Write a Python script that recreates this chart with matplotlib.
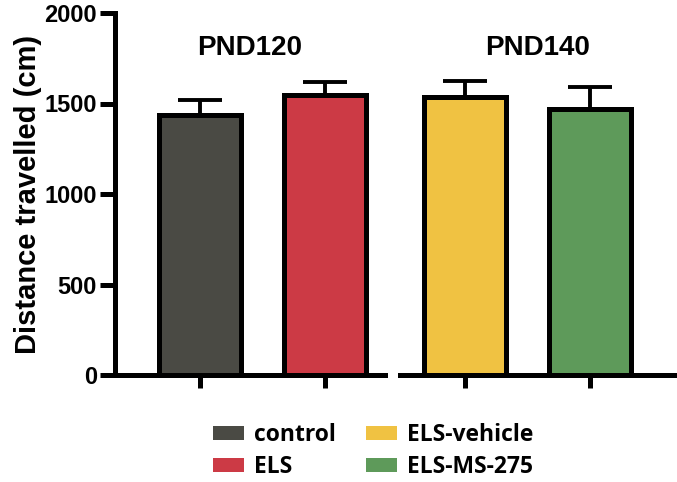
import matplotlib
matplotlib.use("Agg")
import matplotlib.pyplot as plt
from matplotlib.patches import Patch

groups = ["PND120", "PND140"]
labels = ["control", "ELS", "ELS-vehicle", "ELS-MS-275"]
means = [1436, 1547, 1536, 1470]
errs = [83, 72, 88, 121]
colors = ["#4a4a44", "#cc3a45", "#f0c242", "#5e9a5a"]
yticks = [0, 500, 1000, 1500, 2000]

plt.rcParams['font.family'] = ['Liberation Sans', 'DejaVu Sans']
fig = plt.figure(figsize=(6.77, 4.82), dpi=100)
W, H = 677, 482
bot = (482 - 375) / H
top = (482 - 13) / H
ax1 = fig.add_axes([115 / W, bot, (385 - 115) / W, top - bot])
ax2 = fig.add_axes([400 / W, bot, (675 - 400) / W, top - bot], sharey=ax1)

lw = 3.6
for k, (ax, xl) in enumerate([(ax1, (-0.68, 1.48)), (ax2, (-0.52, 1.68))]):
    idx = [2 * k, 2 * k + 1]
    xs = [0, 1]
    ax.bar(xs, [means[i] for i in idx], width=0.66, color=[colors[i] for i in idx],
           edgecolor="black", linewidth=lw, zorder=3)
    ax.errorbar(xs, [means[i] for i in idx],
                yerr=[[0, 0], [errs[i] for i in idx]], fmt="none", ecolor="black",
                elinewidth=2.8, capsize=16, capthick=2.8, zorder=2)
    ax.set_xlim(*xl)
    ax.set_ylim(0, 2000)
    ax.set_xticks(xs)
    ax.set_xticklabels([])
    for s in ["top", "right"]:
        ax.spines[s].set_visible(False)
    ax.spines["bottom"].set_linewidth(lw)
    ax.spines["left"].set_linewidth(lw)
    ax.tick_params(axis="x", length=9, width=lw, direction="out")
    ax.tick_params(axis="y", length=11, width=lw, direction="out", labelsize=17, pad=2)
    ax.set_title(groups[k], fontsize=20, fontweight="bold", y=0.86)
    for t in ax.get_yticklabels():
        t.set_fontweight("bold")

ax1.set_yticks(yticks)
ax1.set_ylabel("Distance travelled (cm)", fontsize=21, fontweight="bold", labelpad=2)
ax2.spines["left"].set_visible(False)
ax2.tick_params(axis="y", left=False, labelleft=False)

handles = [Patch(facecolor=c, edgecolor="none") for c in colors]
leg = fig.legend(handles, labels, loc="center", bbox_to_anchor=(373 / W, 31 / H), ncol=2,
                 frameon=False, prop={"family": ["Open Sans", "DejaVu Sans"], "weight": "bold", "size": 16.5},
                 handlelength=1.35, handleheight=0.55, handletextpad=0.45, columnspacing=1.3,
                 labelspacing=0.35, borderpad=0)
fig.savefig("out.png", dpi=100)
